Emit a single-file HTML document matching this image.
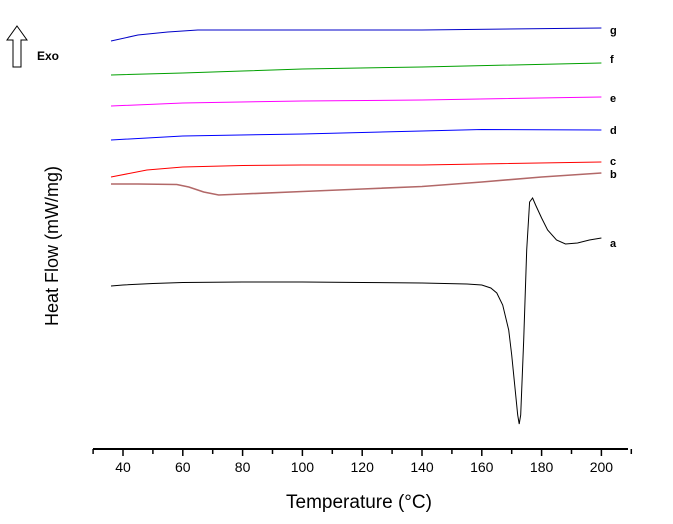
<!DOCTYPE html>
<html><head><meta charset="utf-8"><style>
body{margin:0;background:#fff}
svg{display:block;font-family:"Liberation Sans",Arial,sans-serif}
</style></head><body>
<svg id="chart" width="673" height="524">
<g>
<polygon points="17,26 27,40 21,40 21,67 13,67 13,40 7,40" fill="none" stroke="#000" stroke-width="1"/>
<text x="37" y="60" font-size="12" font-weight="bold">Exo</text>
</g>
<text transform="translate(58,246) rotate(-90)" text-anchor="middle" font-size="18">Heat Flow (mW/mg)</text>
<text x="359" y="508" text-anchor="middle" font-size="19">Temperature (°C)</text>
<line x1="93" y1="449" x2="628" y2="449" stroke="#000" stroke-width="2"/>
<g id="ticks"></g>
<g id="series"></g>
</svg>
<script>
const xTicks=[40,60,80,100,120,140,160,180,200];
const minorTicks=[30,50,70,90,110,130,150,170,190,210];
const seriesNames=["a","b","c","d","e","f","g"];
const seriesColors=["#000","#b26868","#f00","#00f","#f0f","#00a000","#0000c8"];
const aT=[36,40,50,60,80,100,120,140,155,160,163,165,167,169,170,171,172,172.5,173,174,175,176,177,178,180,182,185,188,192,196,200];
const aV=[164,165,166.5,167.5,168,168,167.5,167,166,165,162,157,145,120,95,65,35,26,35,110,200,248,252,245,232,220,210,206,207,210,212];
const bT=[36,45,58,62,67,72,80,100,120,140,160,180,200];
const bV=[266,266,265.5,263,258,255,256,258.5,261,263.5,268,273,277];
const cT=[36,42,48,60,80,100,140,200];
const cV=[273,276.5,280,283,284.5,285,285,288];
const dT=[36,60,100,140,160,200];
const dV=[310,314,316,319,320.5,320];
const eT=[36,60,100,140,200];
const eV=[344,347,349,350,353];
const fT=[36,60,80,100,140,200];
const fV=[375,377,379,381,383,387];
const gT=[36,45,55,65,100,140,200];
const gV=[409,415,418,420,420,420,422];
const allT=[aT,bT,cT,dT,eT,fT,gT];
const allV=[aV,bV,cV,dV,eV,fV,gV];
const labelV=[207,276,289,320,352,391,420];
const NS="http://www.w3.org/2000/svg";
const xs=T=>123+(T-40)*2.99;
const ys=v=>450-v;
const tg=document.getElementById('ticks');
xTicks.forEach(t=>{
 const l=document.createElementNS(NS,'line');
 l.setAttribute('x1',xs(t));l.setAttribute('x2',xs(t));l.setAttribute('y1',449);l.setAttribute('y2',456);l.setAttribute('stroke','#000');l.setAttribute('stroke-width','1.5');
 
 
 tg.appendChild(l);
 const tx=document.createElementNS(NS,'text');
 tx.setAttribute('x',xs(t));tx.setAttribute('y',472);tx.setAttribute('text-anchor','middle');tx.setAttribute('font-size','14');
 tx.textContent=t;
 
 
 tg.appendChild(tx);
});
minorTicks.forEach(t=>{
 const l=document.createElementNS(NS,'line');
 l.setAttribute('x1',xs(t));l.setAttribute('x2',xs(t));l.setAttribute('y1',449);l.setAttribute('y2',454);l.setAttribute('stroke','#000');l.setAttribute('stroke-width','1.5');
 
 
 tg.appendChild(l);
});
const sg=document.getElementById('series');
seriesNames.forEach((n,i)=>{
 const p=document.createElementNS(NS,'path');
 const T=allT[i],V=allV[i];
 p.setAttribute('d',T.map((t,j)=>(j?'L':'M')+xs(t).toFixed(1)+','+ys(V[j]).toFixed(1)).join(''));
 p.setAttribute('fill','none');p.setAttribute('stroke',seriesColors[i]);p.setAttribute('stroke-width',n==='b'?'1.6':'1');
 
 
 sg.appendChild(p);
 const tx=document.createElementNS(NS,'text');
 tx.setAttribute('x',610);tx.setAttribute('y',ys(labelV[i])+4);tx.setAttribute('font-size','11');tx.setAttribute('font-weight','bold');
 tx.textContent=n;
 
 
 sg.appendChild(tx);
});
</script>
</body></html>
